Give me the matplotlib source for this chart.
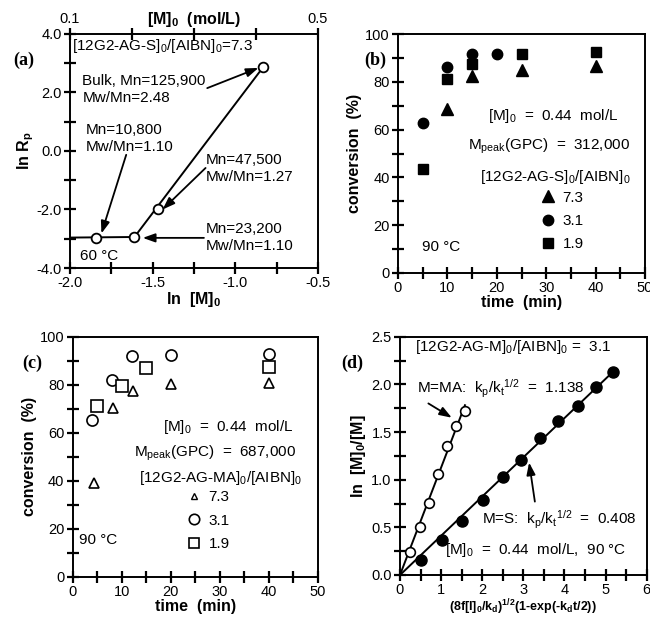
import numpy as np
import matplotlib
matplotlib.use("Agg")
import matplotlib.pyplot as plt
from matplotlib.lines import Line2D

plt.rcParams["font.family"] = ["Liberation Sans", "DejaVu Sans"]
plt.rcParams["mathtext.fontset"] = "custom"
plt.rcParams["mathtext.rm"] = "Liberation Sans"
plt.rcParams["mathtext.bf"] = "Liberation Sans:bold"
plt.rcParams["mathtext.default"] = "regular"
plt.rcParams["font.size"] = 10.5

# ---- (a) ln Rp vs ln [M]0 ----
a_lnM = [-1.84, -1.61, -1.47, -0.83]
a_lnRp = [-2.96, -2.94, -2.0, 2.88]

# ---- (b) 12G2-AG-S, conversion vs time ----
b_t73 = [10, 15, 25, 40]
b_c73 = [68.5, 82.5, 85, 86.5]
b_t31 = [5, 10, 15, 20]
b_c31 = [62.7, 86, 91.6, 91.8]
b_t19 = [5, 10, 15, 25, 40]
b_c19 = [43.5, 81.3, 87.5, 91.5, 92.5]

# ---- (c) 12G2-AG-MA, conversion vs time ----
c_t73 = [4.3, 8.2, 12.2, 20, 40]
c_c73 = [38.9, 70.4, 77.4, 80.3, 80.8]
c_t31 = [4, 8, 12, 20, 40]
c_c31 = [65.3, 81.9, 92.1, 92.4, 92.6]
c_t19 = [5, 10, 15, 40]
c_c19 = [71.3, 79.6, 86.8, 87.2]

# ---- (d) first-order kinetics ----
d_x_ma = [0.24, 0.49, 0.71, 0.93, 1.135, 1.35, 1.58]
d_y_ma = [0.238, 0.50, 0.76, 1.06, 1.357, 1.567, 1.72]
d_x_s = [0.50, 1.01, 1.52, 2.03, 2.50, 2.94, 3.41, 3.85, 4.32, 4.76, 5.19]
d_y_s = [0.157, 0.367, 0.566, 0.787, 1.03, 1.21, 1.44, 1.615, 1.776, 1.976, 2.126]

fig = plt.figure(figsize=(6.5, 6.18), dpi=100)
W, H = 650.0, 618.0


def make_ax(l, r, t, b):
    return fig.add_axes([l / W, 1 - b / H, (r - l) / W, (b - t) / H])


def style(ax):
    for s in ax.spines.values():
        s.set_linewidth(1.4)


def finish_ticks(ax):
    # crossing tick marks on left and bottom axes
    for axis in (ax.xaxis, ax.yaxis):
        for t in axis.get_major_ticks() + axis.get_minor_ticks():
            t.tick2line.set_visible(False)
    ax.tick_params(axis="both", which="major", direction="inout", length=9, width=1.6,
                   color="black", top=False, right=False, labelsize=10.5, pad=1.5)
    ax.tick_params(axis="both", which="minor", direction="inout", length=8, width=1.6,
                   color="black", top=False, right=False)


lbl = dict(fontsize=11.5, fontweight="bold")
panel = dict(fontsize=13, fontweight="bold", family="Liberation Serif", ha="center", va="center")
fs = 11

# ---------------- panel (a)
axA = make_ax(70, 318, 34, 268)
style(axA)
axA.plot([-2.0, a_lnM[1]], [a_lnRp[0], a_lnRp[1]], color="k", lw=1.4)
axA.plot([a_lnM[1], a_lnM[3]], [a_lnRp[1], a_lnRp[3]], color="k", lw=1.4)
axA.plot(a_lnM, a_lnRp, "o", mfc="white", mec="k", mew=1.3, ms=7, zorder=5)
axA.set_xlim(-2.0, -0.5)
axA.set_ylim(-4.0, 4.0)
axA.set_xticks([-2.0, -1.5, -1.0, -0.5])
axA.set_xticklabels(["-2.0", "-1.5", "-1.0", "-0.5"])
axA.set_xticks(np.arange(-2.0, -0.49, 0.25), minor=True)
axA.set_yticks([-4, -2, 0, 2, 4])
axA.set_yticklabels(["-4.0", "-2.0", "0.0", "2.0", "4.0"])
axA.set_yticks(np.arange(-4, 4.1, 1), minor=True)
finish_ticks(axA)
axA.set_xlabel("ln  [M]$_0$", labelpad=0, **lbl)
axA.set_ylabel("ln R$_p$", labelpad=0, **lbl)
axT = axA.twiny()
axT.set_xlim(0.1, 0.5)
axT.set_xticks([0.1, 0.2, 0.3, 0.4, 0.5])
axT.set_xticklabels(["0.1", "", "", "", "0.5"])
axT.tick_params(axis="x", direction="inout", length=9, width=1.6, pad=1.5, color="black",
                labelsize=10.5)
for s in axT.spines.values():
    s.set_visible(False)
axT.text(0.5, 1.06, "[M]$_0$  (mol/L)", transform=axA.transAxes, ha="center", va="center", **lbl)

axA.text(-1.99, 3.58, "[12G2-AG-S]$_0$/[AIBN]$_0$=7.3", ha="left", va="center", fontsize=fs)
axA.text(-1.925, 2.10, "Bulk, Mn=125,900\nMw/Mn=2.48", ha="left", va="center", fontsize=fs, linespacing=1.25)
axA.text(-1.904, 0.42, "Mn=10,800\nMw/Mn=1.10", ha="left", va="center", fontsize=fs, linespacing=1.25)
axA.text(-1.18, -0.61, "Mn=47,500\nMw/Mn=1.27", ha="left", va="center", fontsize=fs, linespacing=1.25)
axA.text(-1.18, -2.95, "Mn=23,200\nMw/Mn=1.10", ha="left", va="center", fontsize=fs, linespacing=1.25)
axA.text(-1.94, -3.60, "60 °C", ha="left", va="center", fontsize=fs)
arr = dict(arrowstyle="-|>,head_length=0.7,head_width=0.25", color="k", lw=1.3, shrinkA=0, shrinkB=0)
axA.annotate("", xy=(-0.86, 2.84), xytext=(-1.17, 2.15), arrowprops=arr)
axA.annotate("", xy=(-1.81, -2.82), xytext=(-1.66, -0.13), arrowprops=arr)
axA.annotate("", xy=(-1.44, -2.0), xytext=(-1.18, -0.58), arrowprops=arr)
axA.annotate("", xy=(-1.56, -2.97), xytext=(-1.19, -2.97), arrowprops=arr)
fig.text(24 / W, 1 - 60 / H, "(a)", **panel)

# ---------------- panel (b)
axB = make_ax(398, 645, 34, 273)
style(axB)
hb1, = axB.plot(b_t73, b_c73, "^", color="k", ms=8, label="7.3")
hb2, = axB.plot(b_t31, b_c31, "o", color="k", ms=7.5, label="3.1")
hb3, = axB.plot(b_t19, b_c19, "s", color="k", ms=7.5, label="1.9")
axB.set_xlim(0, 50)
axB.set_ylim(0, 100)
axB.set_xticks(np.arange(0, 51, 10))
axB.set_xticks(np.arange(0, 51, 5), minor=True)
axB.set_yticks(np.arange(0, 101, 20))
axB.set_yticks(np.arange(0, 101, 10), minor=True)
finish_ticks(axB)
axB.set_xlabel("time  (min)", labelpad=0, **lbl)
axB.set_ylabel("conversion  (%)", labelpad=2, **lbl)
axB.text(44.7, 65.5, "[M]$_0$  =  0.44  mol/L", ha="right", va="center", fontsize=fs)
axB.text(47.0, 52.9, "M$_{peak}$(GPC)  =  312,000", ha="right", va="center", fontsize=fs)
axB.text(47.0, 40.3, "[12G2-AG-S]$_0$/[AIBN]$_0$", ha="right", va="center", fontsize=fs)
axB.text(4.9, 10.9, "90 °C", ha="left", va="center", fontsize=fs)
axB.legend(handles=[hb1, hb2, hb3], loc="upper left", bbox_to_anchor=(29.0, 34.5),
           bbox_transform=axB.transData, frameon=False, handlelength=0.9,
           handletextpad=0.5, labelspacing=0.62, borderpad=0, borderaxespad=0,
           numpoints=1, fontsize=fs)
fig.text(375 / W, 1 - 60 / H, "(b)", **panel)

# ---------------- panel (c)
axC = make_ax(72.7, 318, 336.7, 576.7)
style(axC)
axC.plot(c_t73, c_c73, "^", mfc="white", mec="k", mew=1.2, ms=7.5)
axC.plot(c_t31, c_c31, "o", mfc="white", mec="k", mew=1.2, ms=8)
axC.plot(c_t19, c_c19, "s", mfc="white", mec="k", mew=1.2, ms=8)
axC.set_xlim(0, 50)
axC.set_ylim(0, 100)
axC.set_xticks(np.arange(0, 51, 10))
axC.set_xticks(np.arange(0, 51, 5), minor=True)
axC.set_yticks(np.arange(0, 101, 20))
axC.set_yticks(np.arange(0, 101, 10), minor=True)
finish_ticks(axC)
axC.set_xlabel("time  (min)", labelpad=0, **lbl)
axC.set_ylabel("conversion  (%)", labelpad=2, **lbl)
axC.text(44.9, 62.5, "[M]$_0$  =  0.44  mol/L", ha="right", va="center", fontsize=fs)
axC.text(45.6, 51.4, "M$_{peak}$(GPC)  =  687,000", ha="right", va="center", fontsize=fs)
axC.text(46.8, 41.0, "[12G2-AG-MA]$_0$/[AIBN]$_0$", ha="right", va="center", fontsize=fs)
axC.text(1.2, 15.3, "90 °C", ha="left", va="center", fontsize=fs)
hleg = [Line2D([], [], ls="none", marker="^", mfc="white", mec="k", mew=1.0, ms=5),
        Line2D([], [], ls="none", marker="o", mfc="white", mec="k", mew=1.2, ms=7.5),
        Line2D([], [], ls="none", marker="s", mfc="white", mec="k", mew=1.2, ms=7)]
axC.legend(hleg, ["7.3", "3.1", "1.9"], loc="upper left", bbox_to_anchor=(23.3, 36.0),
           bbox_transform=axC.transData, frameon=False, handlelength=0.9,
           handletextpad=0.5, labelspacing=0.62, borderpad=0, borderaxespad=0,
           numpoints=1, fontsize=fs)
fig.text(32 / W, 1 - 363 / H, "(c)", **panel)

# ---------------- panel (d)
axD = make_ax(400, 646.7, 336.7, 575)
style(axD)
xma = np.array(d_x_ma)
yma = np.array(d_y_ma)
xs = np.array(d_x_s)
ys = np.array(d_y_s)
k_ma = np.sum(xma * yma) / np.sum(xma * xma)
k_s = np.sum(xs * ys) / np.sum(xs * xs)
axD.plot([0, xma.max()], [0, k_ma * xma.max()], color="k", lw=1.4)
axD.plot([0, xs.max()], [0, k_s * xs.max()], color="k", lw=1.4)
axD.plot(xma, yma, "o", mfc="white", mec="k", mew=1.2, ms=7, zorder=5)
axD.plot(xs, ys, "o", color="k", ms=8, zorder=5)
axD.set_xlim(0, 6)
axD.set_ylim(0, 2.5)
axD.set_xticks(np.arange(0, 7, 1))
axD.set_xticks(np.arange(0, 6.01, 0.5), minor=True)
axD.set_yticks(np.arange(0, 2.51, 0.5))
axD.set_yticklabels(["0.0", "0.5", "1.0", "1.5", "2.0", "2.5"])
axD.set_yticks(np.arange(0, 2.51, 0.25), minor=True)
finish_ticks(axD)
axD.set_xlabel("(8f[I]$_0$/k$_d$)$^{1/2}$(1-exp(-k$_d$t/2))", labelpad=0, fontsize=9, fontweight="bold")
axD.set_ylabel("ln  [M]$_0$/[M]", labelpad=2, **lbl)
axD.text(2.76, 2.39, "[12G2-AG-M]$_0$/[AIBN]$_0$ =  3.1", ha="center", va="center", fontsize=fs)
axD.text(0.41, 1.95, "M=MA:  k$_p$/k$_t$$^{1/2}$  =  1.138", ha="left", va="center", fontsize=fs)
axD.text(1.99, 0.577, "M=S:  k$_p$/k$_t$$^{1/2}$  =  0.408", ha="left", va="center", fontsize=fs)
axD.text(1.09, 0.26, "[M]$_0$  =  0.44  mol/L,  90 °C", ha="left", va="center", fontsize=fs)
axD.annotate("", xy=(1.26, 1.65), xytext=(0.69, 1.80), arrowprops=arr)
axD.annotate("", xy=(3.14, 1.18), xytext=(3.28, 0.77), arrowprops=arr)
fig.text(352 / W, 1 - 363 / H, "(d)", **panel)

fig.savefig("out.png", dpi=100)
